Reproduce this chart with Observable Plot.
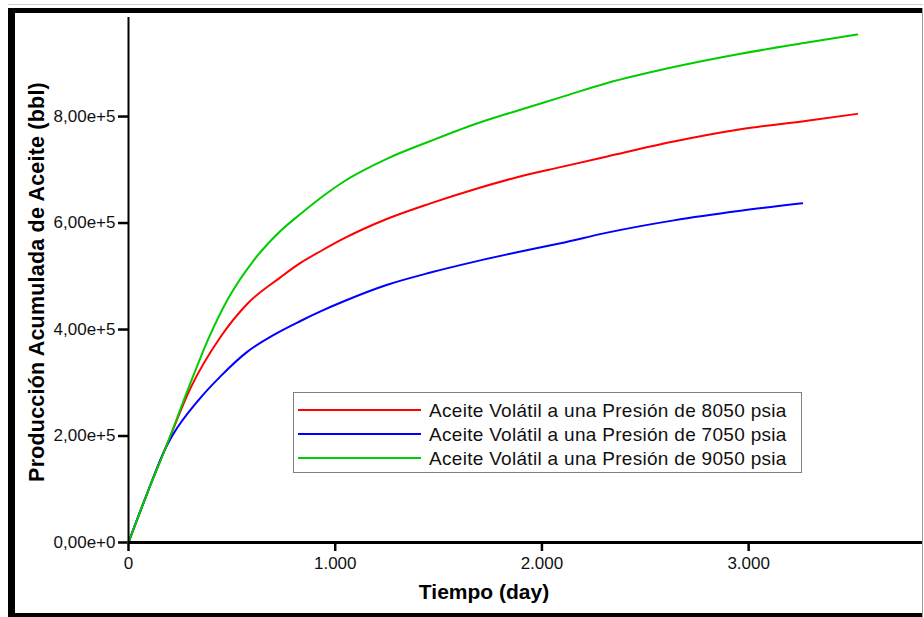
<!DOCTYPE html>
<html>
<head>
<meta charset="utf-8">
<script src="https://cdn.jsdelivr.net/npm/d3@7"></script>
<script src="https://cdn.jsdelivr.net/npm/@observablehq/plot@0.6"></script>
<style>
  html, body { margin: 0; padding: 0; background: #fff; }
  #wrap { position: relative; width: 924px; height: 617px; overflow: hidden; font-family: "Liberation Sans", Arial, sans-serif; background:#fff; }
  #wrap svg { position: absolute; left: 0; top: 0; }
  .b { position: absolute; background: #000; }
  .title { position: absolute; font-weight: bold; color: #000; white-space: nowrap; }
  #legend { position: absolute; left: 293px; top: 392px; width: 507px; height: 79px; border: 1px solid #808080; background: #fff; }
  .row { position: absolute; left: 0; height: 24px; width: 100%; }
  .row .sw { position: absolute; left: 4px; top: 10px; width: 123px; height: 2px; }
  .row .lab { position: absolute; left: 135px; top: 0; font-size: 19px; letter-spacing: 0.3px; line-height: 24px; color: #111; white-space: nowrap; }
</style>
</head>
<body>
<div id="wrap"></div>
<script>
// ---- data ----
const seriesNames = [
  "Aceite Volátil a una Presión de 8050 psia",
  "Aceite Volátil a una Presión de 7050 psia",
  "Aceite Volátil a una Presión de 9050 psia"
];
const seriesColors = ["#ff0000", "#0000ff", "#00cc00"];

// [tiempo (day), producción acumulada (bbl)]
const p8050 = [[0,0],[90,92000],[187,185000],[300,290000],[445,386000],[574,448000],[735,498000],[832,525000],[929,547000],[1042,571000],[1252,608000],[1461,637000],[1671,663000],[1880,686000],[2090,705000],[2316,725000],[2638,753000],[2961,776000],[3283,792000],[3525,805000]];
const p7050 = [[0,0],[90,92000],[187,183000],[211,200000],[340,268000],[445,312000],[574,358000],[703,390000],[832,416000],[929,434000],[1042,453000],[1252,484000],[1461,507000],[1671,527000],[1880,545000],[2090,562000],[2316,582000],[2638,605000],[2961,623000],[3259,637000]];
const p9050 = [[0,0],[90,92000],[187,185000],[290,290000],[388,384000],[485,460000],[606,530000],[735,585000],[832,617000],[929,647000],[1042,678000],[1252,721000],[1461,754000],[1671,785000],[1880,811000],[2090,836000],[2316,863000],[2638,893000],[2961,918000],[3283,939000],[3525,954000]];

const xTicks = [0, 1000, 2000, 3000];
const yTicks = [0, 200000, 400000, 600000, 800000];
const xTitle = "Tiempo (day)";
const yTitle = "Producción Acumulada de Aceite (bbl)";

// ---- build table ----
const rows = [];
[p8050, p7050, p9050].forEach((arr, i) => arr.forEach(([t, q]) => rows.push({t, q, s: seriesNames[i]})));

const fmtX = d => d === 0 ? "0" : d3.format(",")(d).replace(/,/g, ".");
const fmtY = d => d.toExponential(2).replace(".", ",");

const chart = Plot.plot({
  width: 924, height: 617,
  marginLeft: 128, marginRight: 2, marginTop: 17, marginBottom: 75,
  style: { fontFamily: "Liberation Sans, Arial, sans-serif", background: "transparent", color: "#111" },
  x: { domain: [0, 3841] },
  y: { domain: [0, 986000] },
  color: { domain: seriesNames, range: seriesColors },
  marks: [
    Plot.axisX({ ticks: xTicks, tickFormat: fmtX, tickSize: 9, tickPadding: 5, fontSize: 17, strokeWidth: 2.5, label: null, stroke: "#000" }),
    Plot.axisY({ ticks: yTicks, tickFormat: fmtY, tickSize: 10, tickPadding: 3, fontSize: 17, strokeWidth: 2.5, label: null, stroke: "#000" }),
    Plot.line(rows, { x: "t", y: "q", z: "s", stroke: "s", strokeWidth: 2, curve: "monotone-x" }),
    Plot.ruleX([0], { stroke: "#000", strokeWidth: 2 }),
    Plot.ruleY([0], { stroke: "#000", strokeWidth: 3 })
  ]
});

const wrap = document.getElementById("wrap");
wrap.appendChild(chart);

// axis titles
const xt = document.createElement("div");
xt.className = "title"; xt.textContent = xTitle;
xt.style.cssText += "font-size:21px;left:484px;top:592px;transform:translate(-50%,-50%);";
wrap.appendChild(xt);
const yt = document.createElement("div");
yt.className = "title"; yt.textContent = yTitle;
yt.style.cssText += "font-size:21.5px;letter-spacing:0.2px;left:37px;top:282px;transform:translate(-50%,-50%) rotate(-90deg);";
wrap.appendChild(yt);

// legend
const lg = document.createElement("div");
lg.id = "legend";
seriesNames.forEach((n, i) => {
  const r = document.createElement("div");
  r.className = "row"; r.style.top = (6 + i * 24) + "px";
  const sw = document.createElement("div"); sw.className = "sw"; sw.style.background = seriesColors[i];
  const lb = document.createElement("div"); lb.className = "lab"; lb.textContent = n;
  r.appendChild(sw); r.appendChild(lb); lg.appendChild(r);
});
wrap.appendChild(lg);

// window frame
[["8px","8px","915px","5px","#000"],["8px","8px","7px","609px","#000"],["8px","613px","915px","4px","#000"],["922px","8px","1px","609px","#999"],["8px","4px","915px","1px","#ccc"]].forEach(([l,t,w,h,c]) => {
  const d = document.createElement("div"); d.className = "b";
  d.style.left = l; d.style.top = t; d.style.width = w; d.style.height = h; d.style.background = c;
  wrap.appendChild(d);
});
</script>
</body>
</html>
